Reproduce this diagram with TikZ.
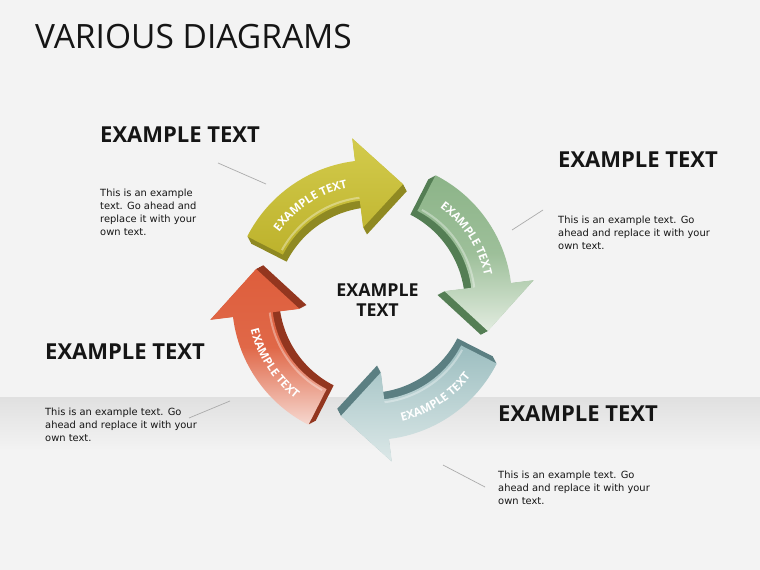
\documentclass[tikz,border=0pt]{standalone}
\usepackage{fontspec}
\setmainfont{DejaVu Sans}
\newfontfamily\osans{Open Sans}
\usetikzlibrary{decorations.text}
\definecolor{bgc}{HTML}{F3F3F3}
\definecolor{bandc}{HTML}{E0E0E0}
\definecolor{ink}{HTML}{151515}
\definecolor{leader}{HTML}{ABABAB}
\definecolor{yface1}{HTML}{D3CB4C}
\definecolor{yface2}{HTML}{BDB22C}
\definecolor{ydark}{HTML}{8F8922}
\definecolor{gface1}{HTML}{8CB488}
\definecolor{gface2}{HTML}{E2ECE0}
\definecolor{gdark}{HTML}{547E54}
\definecolor{rface1}{HTML}{DE5E3C}
\definecolor{rface2}{HTML}{F6D8D0}
\definecolor{rdark}{HTML}{93361F}
\definecolor{tface1}{HTML}{9CBEC0}
\definecolor{tface2}{HTML}{DCE8E8}
\definecolor{tdark}{HTML}{5B7F82}
\newcommand\arwfont{\osans\bfseries\fontsize{11.5}{11.5}\selectfont}
\tikzset{
  arrowshape/.style={insert path={({#1}:140) arc[start angle={#1}, end angle={#1+56}, radius=140]
     -- ({#1+56}:163) -- ({#1+78}:120) -- ({#1+56}:73) -- ({#1+56}:100)
     arc[start angle={#1+56}, end angle={#1}, radius=100] -- cycle}},
  hilite/.style={insert path={({#1+2}:103) arc[start angle={#1+2}, end angle={#1+56}, radius=103]}},
  heading/.style={anchor=base west, inner sep=0pt, text=ink, font=\osans\bfseries\fontsize{22}{22}\selectfont},
  bodytext/.style={anchor=base west, inner sep=0pt, text=ink, align=left, font=\fontsize{9.9}{12.8}\selectfont},
  leaderline/.style={draw=leader, line width=0.7pt},
  arwtext/.style={decorate, decoration={text along path, text={|\arwfont|EXAMPLE TEXT}, text align=center, text color=#1}},
}
\begin{document}
\begin{tikzpicture}[x=1pt, y=-1pt]
\useasboundingbox (0,0) rectangle (760,570);
\fill[bgc] (0,0) rectangle (760,570);
\shade[top color=bandc, bottom color=bgc] (0,397) rectangle (760,450);

\node[anchor=base west, inner sep=0pt, text=ink, font=\osans\fontsize{33.5}{33.5}\selectfont] (title) at (35,48) {VARIOUS DIAGRAMS};

\begin{scope}[shift={(372,300)}]
  % yellow (tail 207)
  \foreach \s in {1,...,8} \fill[ydark, shift={({207+215}:\s)}, arrowshape=207];
  \shade[top color=yface1, bottom color=yface2, arrowshape=207];
  \draw[white, opacity=0.35, line width=2pt, hilite=207];
  % green (tail 297)
  \foreach \s in {1,...,8} \fill[gdark, shift={({297+215}:\s)}, arrowshape=297];
  \shade[top color=gface1, bottom color=gface2, middle color=gface1!80!gface2, arrowshape=297];
  \draw[white, opacity=0.35, line width=2pt, hilite=297];
  % teal (tail 27)
  \foreach \s in {1,...,8} \fill[tdark, shift={({27+215}:\s)}, arrowshape=27];
  \shade[top color=tface1, bottom color=tface2, arrowshape=27];
  \draw[white, opacity=0.35, line width=2pt, hilite=27];
  % red (tail 117)
  \foreach \s in {1,...,8} \fill[rdark, shift={({117+215}:\s)}, arrowshape=117];
  \shade[top color=rface1, bottom color=rface2, middle color=rface1!92!rface2, arrowshape=117];
  \draw[white, opacity=0.35, line width=2pt, hilite=117];

  % texts along arrows
  \path[arwtext=white] ({207+5}:115) arc[start angle=212, end angle=262, radius=115];
  \path[arwtext=white] ({297+5}:115) arc[start angle=302, end angle=352, radius=115];
  \path[arwtext=white] ({27+55}:125) arc[start angle=82, end angle=32, radius=125];
  \path[arwtext=white] ({117+55}:125) arc[start angle=172, end angle=122, radius=125];
\end{scope}

\node[anchor=base, inner sep=0pt, text=ink, align=center, font=\osans\bfseries\fontsize{17.8}{20}\selectfont] (center) at (377.5,316) {EXAMPLE\\TEXT};

\node[heading] (h1) at (100,142) {EXAMPLE TEXT};
\node[heading] (h2) at (558,167) {EXAMPLE TEXT};
\node[heading] (h3) at (45,359) {EXAMPLE TEXT};
\node[heading] (h4) at (498,421) {EXAMPLE TEXT};

\node[bodytext] (b1) at (100,235) {This is an example\\text. Go ahead and\\replace it with your\\own text.};
\node[bodytext] (b2) at (558,249) {This is an example text. Go\\ahead and replace it with your\\own text.};
\node[bodytext] (b3) at (45,441) {This is an example text. Go\\ahead and replace it with your\\own text.};
\node[bodytext] (b4) at (498,504) {This is an example text. Go\\ahead and replace it with your\\own text.};

\coordinate (l1a) at (218,163); \coordinate (l1b) at (266,184);
\coordinate (l2a) at (543,210); \coordinate (l2b) at (512,230);
\coordinate (l3a) at (230,401); \coordinate (l3b) at (189,418);
\coordinate (l4a) at (443,465); \coordinate (l4b) at (485,487);
\draw[leaderline] (l1a) -- (l1b);
\draw[leaderline] (l2a) -- (l2b);
\draw[leaderline] (l3a) -- (l3b);
\draw[leaderline] (l4a) -- (l4b);
\end{tikzpicture}
\end{document}
